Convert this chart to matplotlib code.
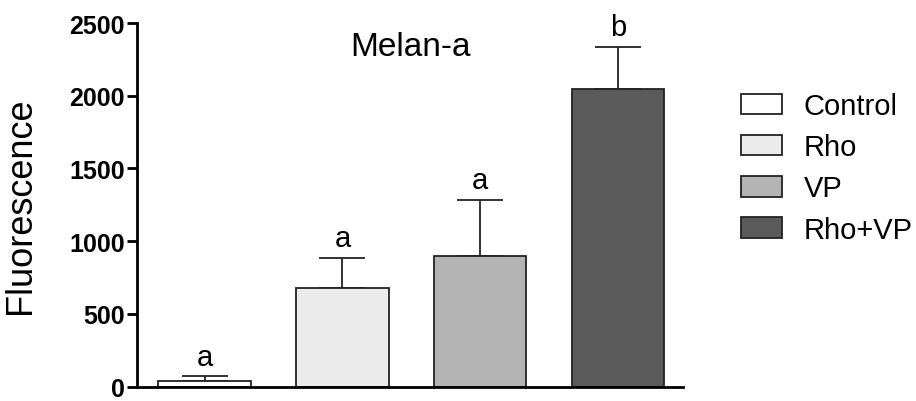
import numpy as np
import matplotlib.pyplot as plt

plt.rcParams['font.family'] = ['Liberation Sans', 'DejaVu Sans']

groups = ["Control", "Rho", "VP", "Rho+VP"]
means = [35, 680, 895, 2050]
errs = [35, 205, 390, 285]
letters = ["a", "a", "a", "b"]
colors = ["#ffffff", "#ececec", "#b4b4b4", "#5a5a5a"]

fig = plt.figure(figsize=(9.16, 4.02), dpi=100)
ax = fig.add_axes([0.1496, 0.036, 0.596, 0.904])

x = np.arange(len(groups))
bars = ax.bar(x, means, width=0.67, color=colors, edgecolor="#222222",
              linewidth=1.3, label=groups, zorder=2)
ax.errorbar(x, means, yerr=[np.zeros(len(errs)), errs], fmt="none",
            ecolor="#222222", elinewidth=1.3, capsize=16.5, capthick=1.3, zorder=1)

# significance letters above the caps
for xi, m, e, t in zip(x, means, errs, letters):
    ax.text(xi, m + e + 40, t, ha="center", va="bottom", fontsize=21)

ax.set_ylim(0, 2500)
ax.set_xlim(-0.49, 3.47)
ax.set_yticks([0, 500, 1000, 1500, 2000, 2500])
ax.set_xticks([])
for lab in ax.get_yticklabels():
    lab.set_fontweight("bold")
ax.tick_params(axis="y", labelsize=18, width=2, length=7, pad=2)
ax.spines["top"].set_visible(False)
ax.spines["right"].set_visible(False)
ax.spines["left"].set_linewidth(2)
ax.spines["bottom"].set_linewidth(2)
ax.set_ylabel("Fluorescence", fontsize=26, labelpad=22)
ax.text(0.5, 0.935, "Melan-a", transform=ax.transAxes, ha="center",
        va="center", fontsize=24)

ax.legend(handles=bars, labels=groups, loc="upper left",
          bbox_to_anchor=(1.106, 0.81), frameon=False, fontsize=21,
          handlelength=1.4, handleheight=0.72, labelspacing=0.45,
          handletextpad=0.75, borderpad=0, borderaxespad=0)

fig.savefig("out.png", dpi=100)
